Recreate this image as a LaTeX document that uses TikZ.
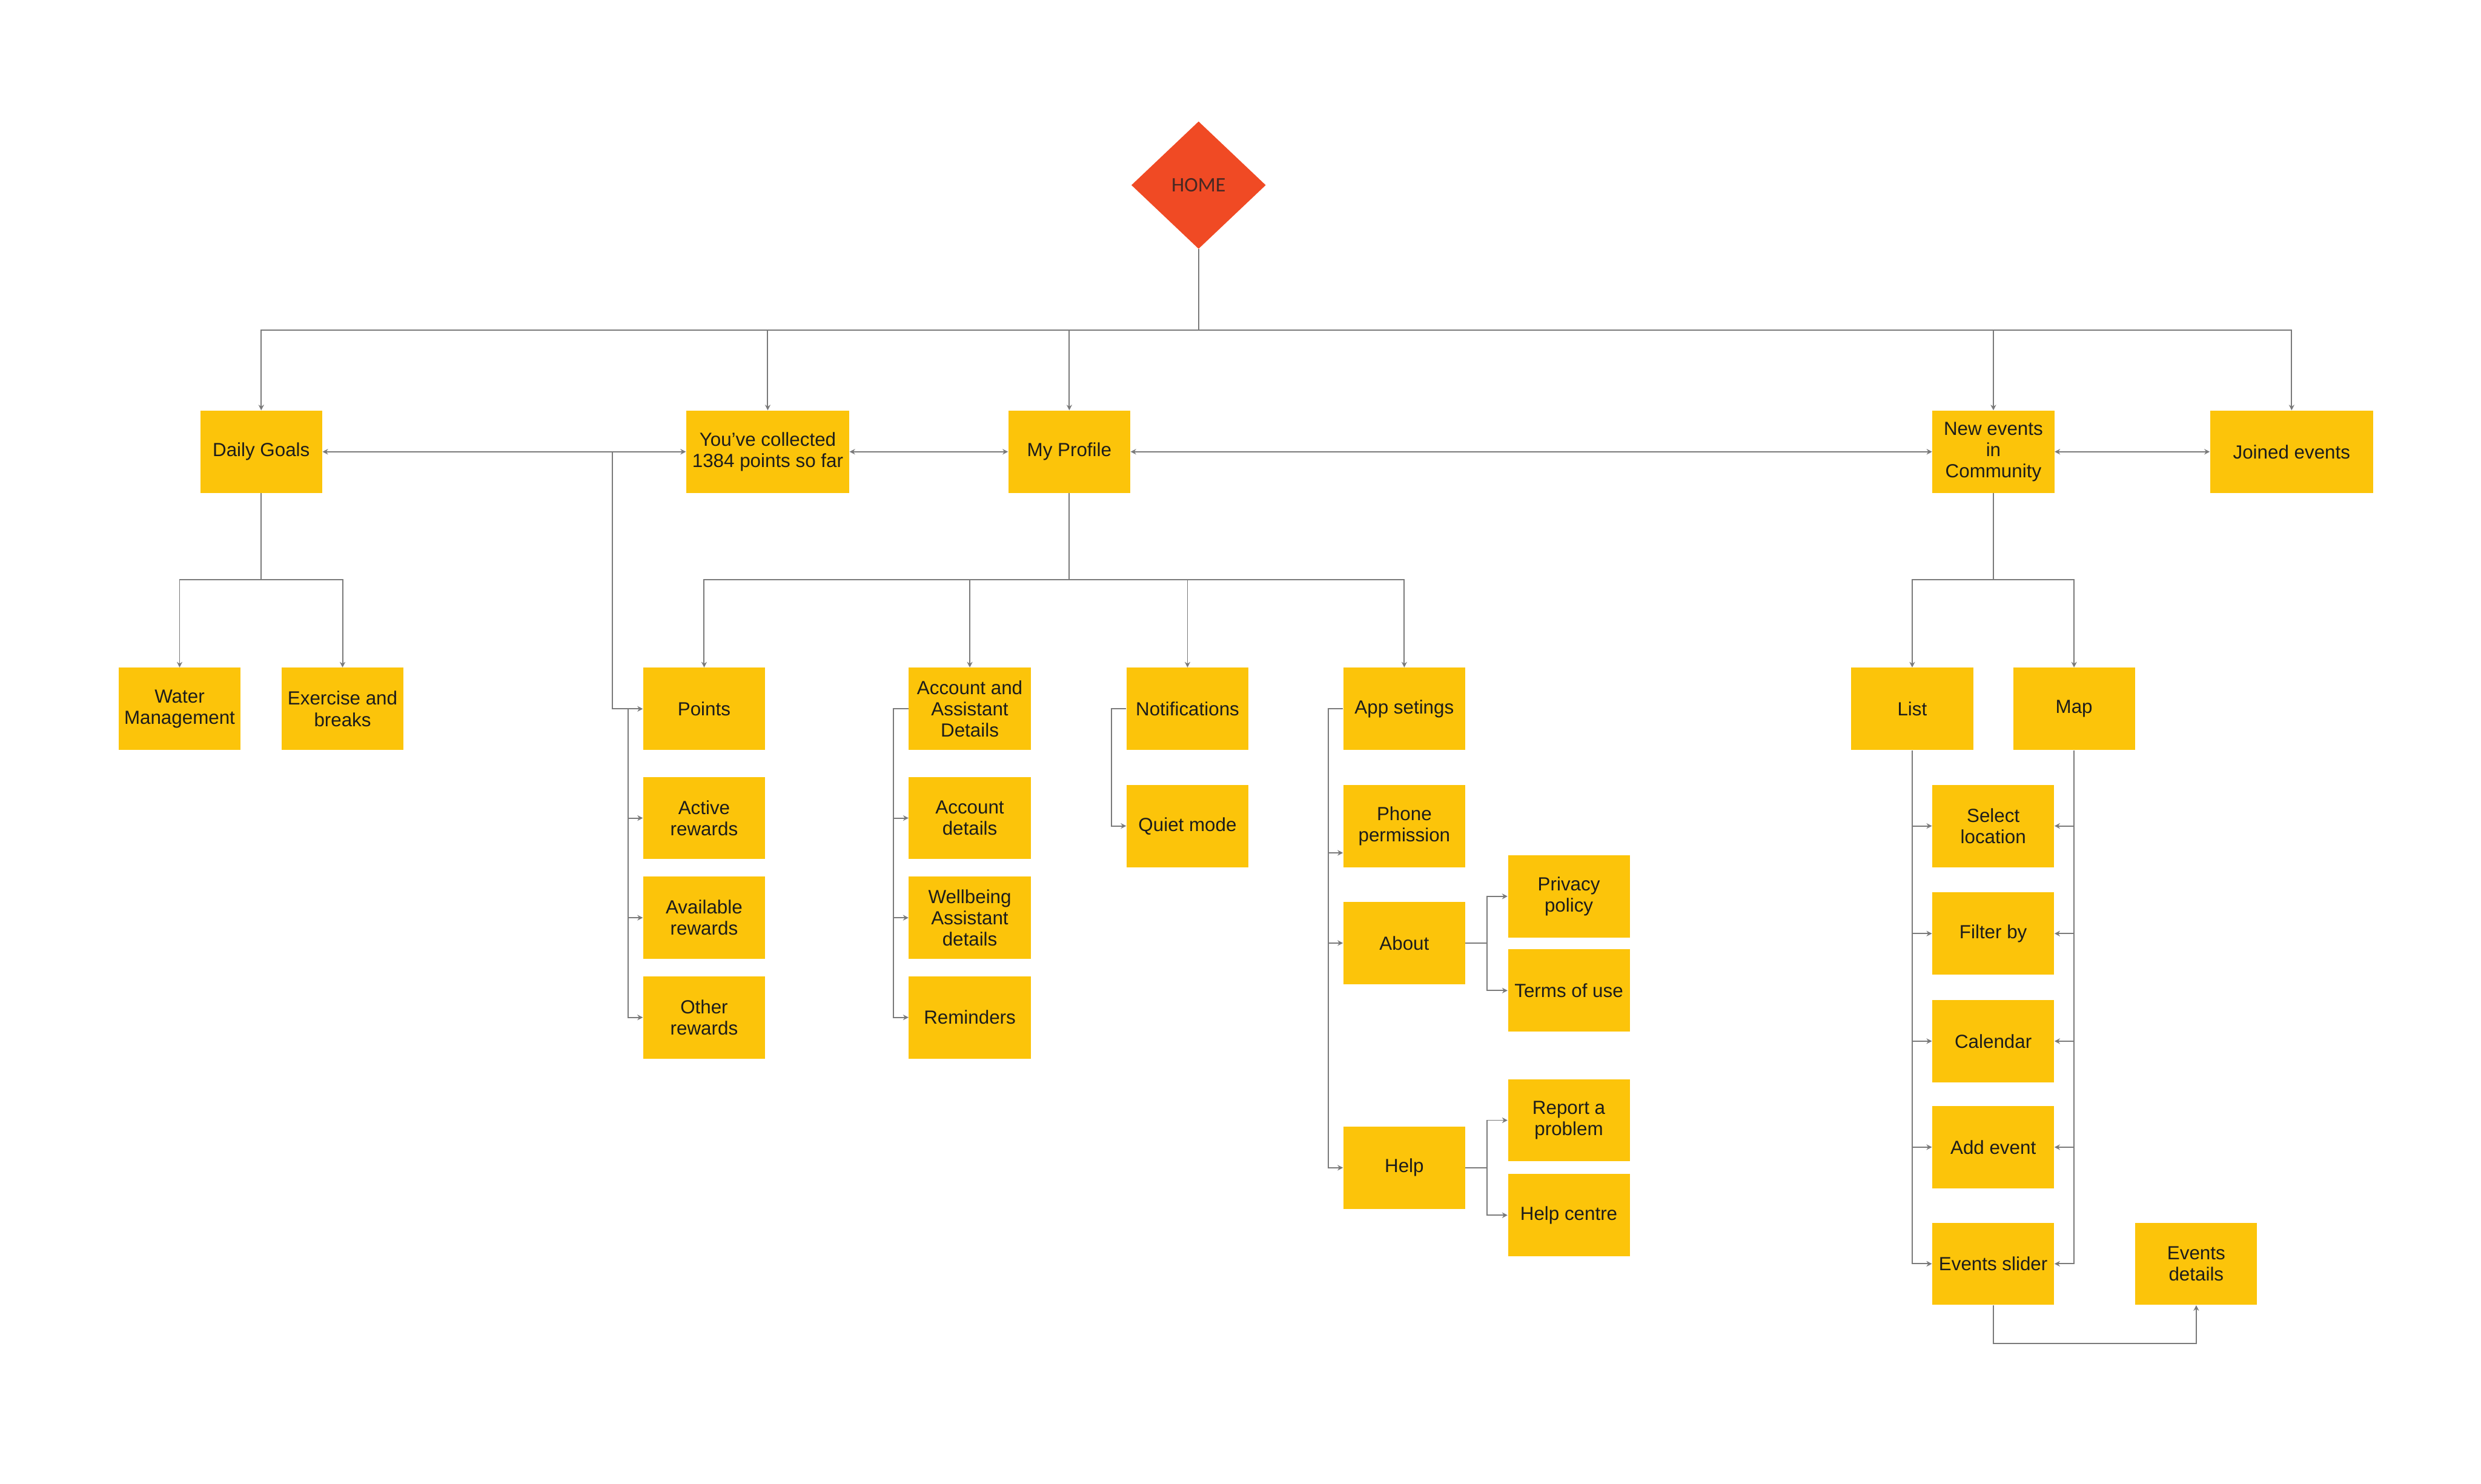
\documentclass[tikz,border=0pt]{standalone}
\usepackage{fontspec}
\setmainfont{Liberation Sans}
\newfontfamily\homefont{Carlito}
\usetikzlibrary{shapes.geometric,arrows.meta}
\definecolor{boxy}{RGB}{252,196,10}
\definecolor{homered}{RGB}{240,74,36}
\definecolor{ln}{RGB}{122,122,122}
\definecolor{txt}{RGB}{28,28,28}
\definecolor{hometxt}{RGB}{70,40,35}
\begin{document}
\begin{tikzpicture}[x=1pt,y=-1pt,
  box/.style={rectangle, fill=boxy, minimum width=77pt, minimum height=52pt, inner sep=0pt, align=center, text=txt, font=\fontsize{12}{13.5}\selectfont},
  wbox/.style={box, minimum width=103pt},
  conn/.style={draw=ln, line width=0.75pt},
  arr/.style={conn, -{Stealth[length=3.5pt,width=3.5pt]}},
  darr/.style={conn, line width=1pt, {Stealth[length=3.5pt,width=3.5pt]}-{Stealth[length=3.5pt,width=3.5pt]}}
]
\useasboundingbox (0,0) rectangle (1568,937.86);

% HOME
\node[diamond, fill=homered, minimum width=85pt, minimum height=80.6pt, inner sep=0pt, text=hometxt, font=\homefont\fontsize{13}{15}\selectfont] (home) at (757.5,117) {HOME};

% top row
\node[box]  (daily)  at (165.1,285.5) {Daily Goals};
\node[wbox] (coll)   at (485.2,285.5) {You've collected\\1384 points so far};
\node[box]  (prof)   at (675.8,285.5) {My Profile};
\node[box]  (newev)  at (1259.8,285.5) {New events\\in\\Community};
\node[wbox] (joined) at (1448.3,285.5) {Joined events};

% second row
\node[box] (water)  at (113.5,448) {Water\\Management};
\node[box] (exer)   at (216.5,448) {Exercise and\\breaks};
\node[box] (points) at (445,448) {Points};
\node[box] (acc)    at (612.9,448) {Account and\\Assistant\\Details};
\node[box] (notif)  at (750.5,448) {Notifications};
\node[box] (apps)   at (887.5,448) {App setings};
\node[box] (list)   at (1208.5,448) {List};
\node[box] (map)    at (1310.8,448) {Map};

% points children
\node[box] (active) at (445,517) {Active\\rewards};
\node[box] (avail)  at (445,580) {Available\\rewards};
\node[box] (other)  at (445,643) {Other\\rewards};

% account children
\node[box] (accd)   at (612.9,517) {Account\\details};
\node[box] (well)   at (612.9,580) {Wellbeing\\Assistant\\details};
\node[box] (remind) at (612.9,643) {Reminders};

% notifications children
\node[box] (quiet)  at (750.5,522) {Quiet mode};

% app settings children
\node[box] (phone)  at (887.5,522) {Phone\\permission};
\node[box] (about)  at (887.5,596) {About};
\node[box] (help)   at (887.5,738) {Help};
\node[box] (priv)   at (991.5,566.5) {Privacy\\policy};
\node[box] (terms)  at (991.5,626) {Terms of use};
\node[box] (report) at (991.5,708) {Report a\\problem};
\node[box] (hcentre) at (991.5,768) {Help centre};

% community children
\node[box] (selloc)  at (1259.7,522) {Select\\location};
\node[box] (filter)  at (1259.7,590) {Filter by};
\node[box] (cal)     at (1259.7,658) {Calendar};
\node[box] (addev)   at (1259.7,725) {Add event};
\node[box] (slider)  at (1259.7,798.7) {Events slider};
\node[box] (details) at (1388,798.7) {Events\\details};

% ---- connectors ----
\coordinate (bus) at (757.5,208.5);
\draw[conn] (home.south) -- (bus);
\foreach \n in {daily,coll,prof,newev,joined}
  \draw[arr] (bus) -| (\n.north);

\draw[darr] (daily.east) -- (coll.west);
\draw[darr] (coll.east) -- (prof.west);
\draw[darr] (prof.east) -- (newev.west);
\draw[darr] (newev.east) -- (joined.west);

% daily goals children
\coordinate (dgb) at (165.1,366.5);
\draw[conn] (daily.south) -- (dgb);
\foreach \n in {water,exer}
  \draw[arr] (dgb) -| (\n.north);

% profile children
\coordinate (mpb) at (675.8,366.5);
\draw[conn] (prof.south) -- (mpb);
\foreach \n in {points,acc,notif,apps}
  \draw[arr] (mpb) -| (\n.north);

% community children
\coordinate (ncb) at (1259.8,366.5);
\draw[conn] (newev.south) -- (ncb);
\foreach \n in {list,map}
  \draw[arr] (ncb) -| (\n.north);

% points link from top row line
\coordinate (pj) at (387,285.5);
\draw[arr] (pj) |- (points.west);
\foreach \n in {active,avail,other}
  \draw[arr] (points.west) ++(-9.5,0) |- (\n.west);

% account
\foreach \n in {accd,well,remind}
  \draw[arr] (acc.west) -- ++(-9.6,0) |- (\n.west);

% notifications
\draw[arr] (notif.west) -- ++(-9.5,0) |- (quiet.west);

% app settings
\draw[arr] (apps.west) -- ++(-9.4,0) |- ([yshift=-17pt]phone.west);
\draw[arr] (apps.west) -- ++(-9.4,0) |- (about.west);
\draw[arr] (apps.west) -- ++(-9.4,0) |- (help.west);

\draw[arr] (about.east) -- ++(13.5,0) |- (priv.west);
\draw[arr] (about.east) -- ++(13.5,0) |- (terms.west);
\draw[arr] (help.east) -- ++(13.5,0) |- (report.west);
\draw[arr] (help.east) -- ++(13.5,0) |- (hcentre.west);

% list / map
\foreach \n in {selloc,filter,cal,addev,slider} {
  \draw[arr] (list.south) |- (\n.west);
  \draw[arr] (map.south) |- (\n.east);
}

\draw[arr] (slider.south) -- ++(0,24) -| (details.south);
\end{tikzpicture}
\end{document}
